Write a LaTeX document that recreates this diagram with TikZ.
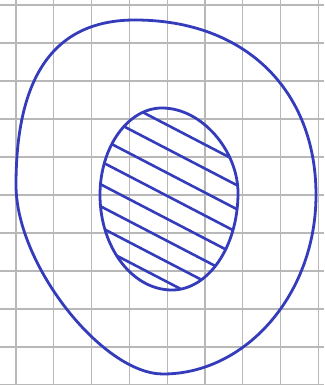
\documentclass[tikz,border=0pt]{standalone}
\begin{document}
\begin{tikzpicture}[x=1pt,y=-1pt,
  gridline/.style={draw=black!28, line width=1.3pt},
  pen/.style={draw=penblue, line width=2.8pt, line cap=round, line join=round},
  hatch/.style={draw=penblue, line width=2.6pt, line cap=round}]
\definecolor{penblue}{RGB}{52,60,188}
\fill[white] (0,0) rectangle (324,385);
\useasboundingbox (0,0) rectangle (324,385);
% grid paper
\foreach \gx in {16,53.8,91.6,129.4,167.2,205,242.8,280.6,318.4}
  \draw[gridline] (\gx,0) -- (\gx,385);
\foreach \gy in {5,43,81,119,157,195,233,271,309,347,385}
  \draw[gridline] (0,\gy) -- (324,\gy);
% outer oval
\coordinate (ot) at (135,20);
\coordinate (or) at (316,195);
\coordinate (ob) at (163,374);
\coordinate (ol) at (16,185);
\draw[pen] (ot) .. controls (245,20) and (316,90) .. (or)
  .. controls (316,294) and (246,374) .. (ob)
  .. controls (103,374) and (16,265) .. (ol)
  .. controls (16,75) and (55,20) .. (ot) -- cycle;
% inner ellipse
\coordinate (it) at (162,108);
\coordinate (ir) at (238,193);
\coordinate (ib) at (172,290);
\coordinate (il) at (100,195);
\def\innerpath{(it) .. controls (202,108) and (238,151) .. (ir)
  .. controls (238,247) and (208,290) .. (ib)
  .. controls (132,290) and (100,247) .. (il)
  .. controls (100,147) and (128,108) .. (it) -- cycle}
\begin{scope}
  \clip \innerpath;
  \foreach \c in {38,62,86,109,132,154,175,195}
    \draw[hatch] (80,0.52*80+\c) -- (260,0.52*260+\c);
\end{scope}
\draw[pen] \innerpath;
\end{tikzpicture}
\end{document}
